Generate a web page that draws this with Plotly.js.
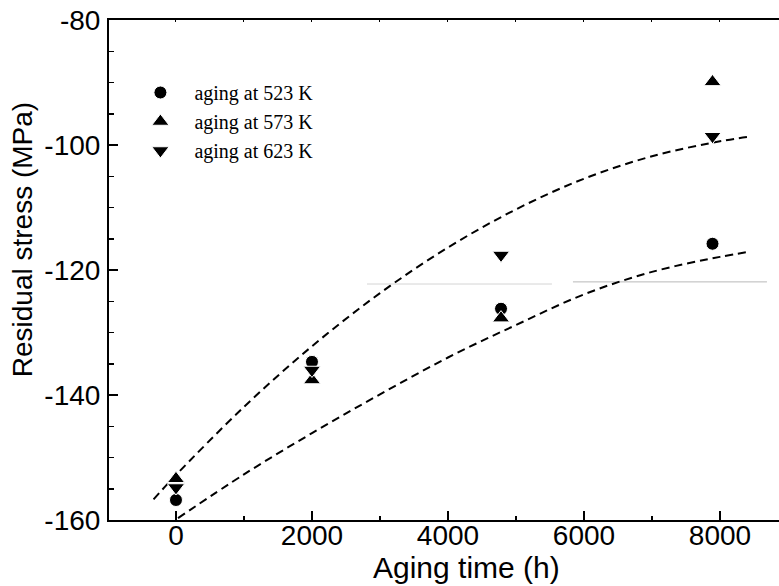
<!DOCTYPE html>
<html>
<head>
<meta charset="utf-8">
<script src="https://cdn.plot.ly/plotly-3.0.1.min.js"></script>
<style>html,body{margin:0;padding:0;background:#fff;}#chart{width:779px;height:586px;}</style>
</head>
<body>
<div id="chart"></div>
<script>
// ---- data ----
const seriesNames = ["aging at 523 K", "aging at 573 K", "aging at 623 K"];
const agingTime = [0, 2000, 4780, 7890];
const stress523 = [-156.8, -134.7, -126.2, -115.8];
const stress573 = [-153.4, -137.6, -127.7, -89.9];
const stress623 = [-154.8, -136.0, -117.6, -98.6];

// upper dashed fit curve
const fitUpperX = [-330, 0, 1000, 2000, 3000, 4000, 5000, 6000, 7000, 8000, 8420];
const fitUpperY = [-156.7, -152.8, -141.9, -132.2, -123.7, -116.4, -110.3, -105.4, -101.8, -99.4, -98.7];
// lower dashed fit curve
const fitLowerX = [30, 1000, 2000, 3000, 4000, 5000, 6000, 7000, 8000, 8420];
const fitLowerY = [-159.7, -152.7, -146.1, -139.9, -134.0, -128.8, -123.9, -120.3, -117.9, -117.1];

// faint grey horizontal stroke present in the picture
const faintX1 = [2809, 5529];
const faintY1 = [-122.24, -122.24];
const faintX2 = [5838, 8691];
const faintY2 = [-121.9, -121.9];

const xTickVals = [0, 2000, 4000, 6000, 8000];
const xTickText = ["0", "2000", "4000", "6000", "8000"];
const yTickVals = [-160, -140, -120, -100, -80];
const yTickText = ["-160", "-140", "-120", "-100", "-80"];

const xTitle = "Aging time (h)";
const yTitle = "Residual stress (MPa)";

const markerLine = {color: "#ffffff", width: 1};

const traces = [
  {x: faintX1, y: faintY1, mode: "lines", line: {color: "#d4d4d4", width: 1}, showlegend: false, hoverinfo: "skip", xaxis: "x2"},
  {x: faintX2, y: faintY2, mode: "lines", line: {color: "#b8b8b8", width: 1}, showlegend: false, hoverinfo: "skip"},
  {x: fitUpperX, y: fitUpperY, mode: "lines", line: {color: "#000", width: 2, dash: "8px,5px", shape: "spline", smoothing: 1}, showlegend: false},
  {x: fitLowerX, y: fitLowerY, mode: "lines", line: {color: "#000", width: 2, dash: "8px,5px", shape: "spline", smoothing: 1}, showlegend: false},
  {x: agingTime, y: stress523, name: seriesNames[0], mode: "markers", marker: {symbol: "circle", size: 13, color: "#000", line: markerLine}},
  {x: agingTime, y: stress573, name: seriesNames[1], mode: "markers", marker: {symbol: "triangle-up", size: 15, color: "#000", line: markerLine}},
  {x: agingTime, y: stress623, name: seriesNames[2], mode: "markers", marker: {symbol: "triangle-down", size: 15, color: "#000", line: markerLine}}
];

const axisFont = {family: "Liberation Sans, Arial, sans-serif", size: 28, color: "#000"};

const layout = {
  width: 779, height: 586,
  margin: {l: 109, r: 0, t: 20, b: 66, pad: 0},
  paper_bgcolor: "#fff", plot_bgcolor: "#fff",
  showlegend: true,
  legend: {
    x: 0.026, y: 0.894, xanchor: "left", yanchor: "top",
    bgcolor: "rgba(0,0,0,0)", borderwidth: 0,
    font: {family: "Liberation Serif, Times New Roman, serif", size: 20, color: "#000"},
    itemwidth: 58, tracegroupgap: 0
  },
  xaxis: {
    range: [-985, 8868], showgrid: false, zeroline: false,
    showline: true, linecolor: "#000", linewidth: 2,
    ticks: "inside", ticklen: 9, tickwidth: 1.5, tickcolor: "#000",
    tickvals: xTickVals, ticktext: xTickText, tickfont: axisFont,
    ticklabelstandoff: -11,
    minor: {dtick: 1000, tick0: 0, ticks: "inside", ticklen: 4, tickwidth: 1.5, tickcolor: "#000", showgrid: false},
    automargin: false
  },
  xaxis2: {
    matches: "x", overlaying: "x", side: "top", anchor: "y",
    showgrid: false, zeroline: false, showline: true, linecolor: "#000", linewidth: 2,
    ticks: "inside", ticklen: 2, tickwidth: 1, tickcolor: "#000",
    dtick: 1000, tick0: 0, showticklabels: false
  },
  yaxis: {
    range: [-160, -80], showgrid: false, zeroline: false,
    showline: true, linecolor: "#000", linewidth: 2,
    ticks: "inside", ticklen: 9, tickwidth: 1.5, tickcolor: "#000",
    tickvals: yTickVals, ticktext: yTickText, tickfont: axisFont,
    ticklabelstandoff: 1,
    minor: {dtick: 5, tick0: -160, ticks: "inside", ticklen: 5, tickwidth: 1.5, tickcolor: "#000", showgrid: false},
    automargin: false
  },
  annotations: [
    {text: xTitle, xref: "paper", yref: "paper", x: 0.533, y: -0.094, xanchor: "center", yanchor: "middle",
     showarrow: false, font: {family: "Liberation Sans, Arial, sans-serif", size: 30, color: "#000"}},
    {text: yTitle, xref: "paper", yref: "paper", x: -0.128, y: 0.56, xanchor: "center", yanchor: "middle",
     textangle: -90, showarrow: false, font: {family: "Liberation Sans, Arial, sans-serif", size: 28, color: "#000"}}
  ]
};

Plotly.newPlot("chart", traces, layout, {displayModeBar: false, staticPlot: true});
</script>
</body>
</html>
